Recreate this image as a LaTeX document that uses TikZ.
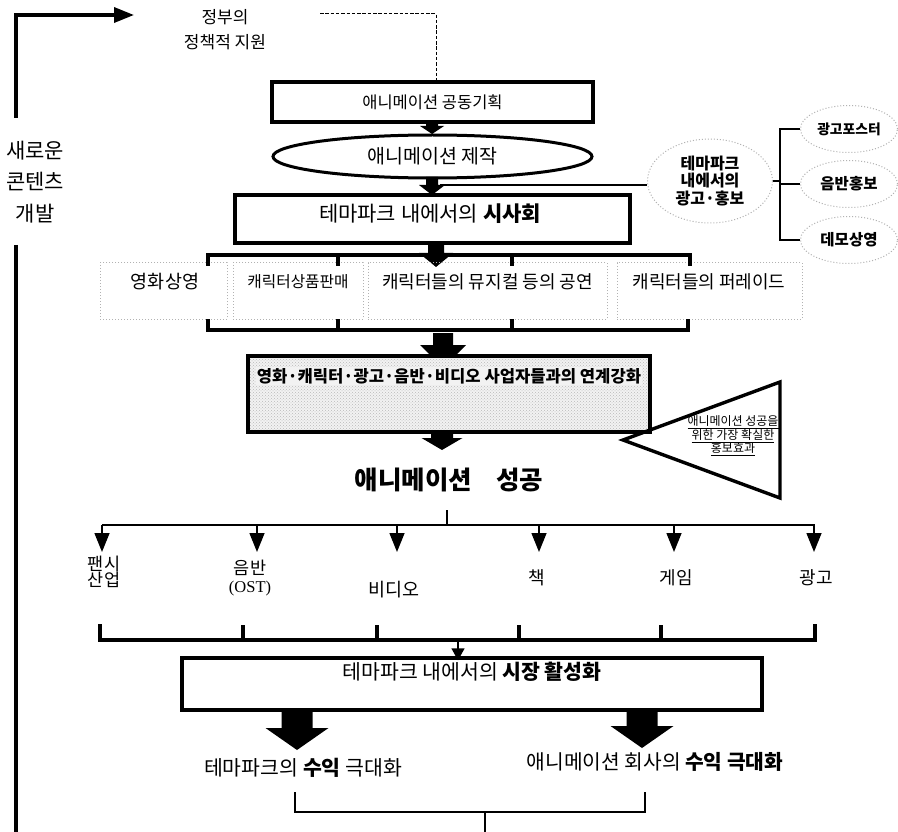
\documentclass[tikz,border=0pt]{standalone}
\usepackage{fontspec}
\setmainfont{Liberation Serif}
\newfontfamily\kr{Noto Sans CJK KR}
\usetikzlibrary{shapes.geometric,arrows.meta,patterns}
\newcommand\fs[2]{\fontsize{#1}{#2}\selectfont}
\newcommand\BArrow[6]{\fill (#1-#4,#2) -- (#1+#4,#2) -- (#1+#4,#3-#6) -- (#1+#5,#3-#6) -- (#1,#3) -- (#1-#5,#3-#6) -- (#1-#4,#3-#6) -- cycle;}
\tikzset{
  every node/.style={font=\kr, inner sep=0pt},
  thickbox/.style={draw, rectangle, line width=3.4pt},
  dotbox/.style={draw=gray!60, dotted, line width=1pt, rectangle},
  dotell/.style={draw=gray!60, dotted, line width=1pt, ellipse},
  thickline/.style={line width=3.4pt},
  thinline/.style={line width=1.5pt},
  smallarrow/.style={line width=1.5pt, -{Triangle[length=19pt,width=15pt]}},
}
\begin{document}
\begin{tikzpicture}[x=1pt,y=-1pt]
\useasboundingbox (0,0) rectangle (898,832);
\fill[white] (0,0) rectangle (898,832);

% left loop
\coordinate (L1) at (16,118);
\coordinate (L3) at (134,15);
\draw[thickline, -{Triangle[length=20pt,width=15pt]}] (L1) |- (L3);
\coordinate (L4) at (16,245);
\coordinate (L5) at (16,832);
\draw[thickline] (L4) -- (L5);
\node[align=center, font=\kr\fs{21}{31.5}] (newc) at (35,182) {새로운\\콘텐츠\\개발};

% government support
\node[align=center, font=\kr\fs{17}{25}] (gov) at (225,30) {정부의\\정책적 지원};

% main flow
\node[thickbox, minimum width=321pt, minimum height=40pt, font=\kr\fs{16.5}{18}] (b1) at (432.5,102) {애니메이션 공동기획};
\coordinate (d0) at (320,14);
\coordinate (d1) at (436,14);
\draw[dash pattern=on 3.5pt off 1.8pt, line width=1pt] (d0) -- (d1) -- (d1 |- b1.north);

\node[draw, ellipse, line width=3pt, minimum width=319pt, minimum height=43pt, font=\kr\fs{19.5}{22}] (e1) at (432.5,156.5) {애니메이션 제작};
\node[thickbox, minimum width=395pt, minimum height=48pt] (b3) at (432.5,219) {};
\node[font=\kr\fs{21}{24}] (b3t) at (430,214) {테마파크 내에서의 \textbf{시사회}};

\BArrow{432}{121}{134}{6}{12}{8}
\BArrow{432}{177}{195}{6}{13}{10}
\BArrow{436}{243}{267}{8}{17}{14}

% right promotion group
\node[dotell, minimum width=125pt, minimum height=84pt, align=center, font=\kr\bfseries\fs{16}{17.5}] (rad) at (710,181) {테마파크\\내에서의\\광고·홍보};
\coordinate (rl) at (440,185);
\draw[line width=2pt] (rl) -- (rl -| rad.west);
\node[dotell, minimum width=97pt, minimum height=47pt, font=\kr\bfseries\fs{13.8}{15}] (p1) at (849,129) {광고포스터};
\node[dotell, minimum width=97pt, minimum height=47pt, font=\kr\bfseries\fs{15.5}{15}] (p2) at (849,184) {음반홍보};
\node[dotell, minimum width=97pt, minimum height=47pt, font=\kr\bfseries\fs{15.5}{15}] (p3) at (849,240) {데모상영};
\coordinate (br) at (780,181);
\draw[line width=1.7pt] (rad.east) -- (br);
\draw[line width=1.7pt] (p1.west) -| (br) |- (p3.west);
\draw[line width=1.7pt] (br |- p2.west) -- (p2.west);

% four dotted boxes
\node[dotbox, minimum width=127pt, minimum height=56pt] (s1) at (163.5,291) {};
\node[dotbox, minimum width=130pt, minimum height=56pt] (s2) at (298,291) {};
\node[dotbox, minimum width=239pt, minimum height=56pt] (s3) at (487.5,291) {};
\node[dotbox, minimum width=185pt, minimum height=56pt] (s4) at (709.5,291) {};
\node[font=\kr\fs{18.5}{20}] (s1t) at (165,282) {영화상영};
\node[font=\kr\fs{15.7}{18}] (s2t) at (298,282) {캐릭터상품판매};
\node[font=\kr\fs{18}{20}] (s3t) at (487.5,282) {캐릭터들의 뮤지컬 등의 공연};
\node[font=\kr\fs{18}{20}] (s4t) at (709,282) {캐릭터들의 퍼레이드};
% brackets
\draw[thickline] (208,266) -- (208,255) -- (690,255) -- (690,266);
\draw[thickline] (338,255) -- (338,266);
\draw[thickline] (512,255) -- (512,266);
\draw[thickline] (208,319) -- (208,330) -- (688,330) -- (688,319);
\draw[thickline] (338,330) -- (338,319);
\draw[thickline] (512,330) -- (512,319);

\BArrow{443}{333}{368}{10}{23}{23}

% gray box
\node[thickbox, minimum width=402pt, minimum height=76pt, preaction={fill=gray!10}, pattern=crosshatch dots, pattern color=gray!55] (gb) at (449,394) {};
\node[font=\kr\bfseries\fs{16.6}{18}, fill=gray!10, inner sep=1pt] (gbt) at (449,376) {영화·캐릭터·광고·음반·비디오 사업자들과의 연계강화};

\BArrow{442}{431}{450}{11}{20.5}{12}

% triangle
\coordinate (t1) at (623,440);
\coordinate (t2) at (780,382);
\coordinate (t3) at (780,498);
\draw[thickline, line join=miter] (t1) -- (t2) -- (t3) -- cycle;
\node[align=center, font=\kr\fs{12}{13.5}] (tt) at (733,436) {\underline{애니메이션 성공을}\\\underline{위한 가장 확실한}\\\underline{홍보효과}};

% success
\node[font=\kr\bfseries\fs{25.5}{28}] (succ) at (449,480) {애니메이션\hspace{24pt}성공};

% distribution
\coordinate (c0) at (447,510);
\coordinate (c1) at (447,525);
\draw[thinline] (c0) -- (c1);
\draw[thinline] (102,525) -- (815,525);
\foreach \x in {102,257,397,539,674,814}{
  \draw[smallarrow] (\x,524.5) -- (\x,552);
}
\node[align=center, font=\kr\fs{17.5}{16.5}] (o1) at (104,572) {팬시\\산업};
\node[align=center, font=\kr\fs{17.5}{17.5}] (o2) at (250,578) {음반\\{\rmfamily\fs{16.5}{17.5}(OST)}};
\node[font=\kr\fs{18.5}{20}] (o3) at (394,590) {비디오};
\node[font=\kr\fs{18}{20}] (o4) at (537,578) {책};
\node[font=\kr\fs{18}{20}] (o5) at (676,578) {게임};
\node[font=\kr\fs{18}{20}] (o6) at (816,578) {광고};

% lower bracket
\draw[thickline] (100,624) -- (100,640) -- (815,640) -- (815,624);
\foreach \x in {243,377,519,661}{
  \draw[thickline] (\x,640) -- (\x,625);
}

% market box
\node[thickbox, minimum width=580pt, minimum height=52pt] (mk) at (472,684) {};
\node[font=\kr\fs{20.5}{22}] (mkt) at (472,672) {테마파크 내에서의 \textbf{시장 활성화}};
\coordinate (m0) at (458,640);
\draw[line width=1.5pt, -{Triangle[length=12pt,width=13pt]}] (m0) -- (m0 |- mk.north) -- ++(0,4);

\BArrow{297}{710}{750}{15.5}{31.5}{22}
\BArrow{642}{710}{748}{15.5}{31.5}{22}

\node[font=\kr\fs{20.5}{22}] (r1) at (303,768) {테마파크의 \textbf{수익} 극대화};
\node[font=\kr\fs{20.3}{22}] (r2) at (655,762) {애니메이션 회사의 \textbf{수익 극대화}};

% final bracket
\draw[line width=2.8pt] (295,792) -- (295,812) -- (645,812) -- (645,792);
\coordinate (f0) at (485,812);
\coordinate (f1) at (485,832);
\draw[line width=2.4pt] (f0) -- (f1);
\end{tikzpicture}
\end{document}
